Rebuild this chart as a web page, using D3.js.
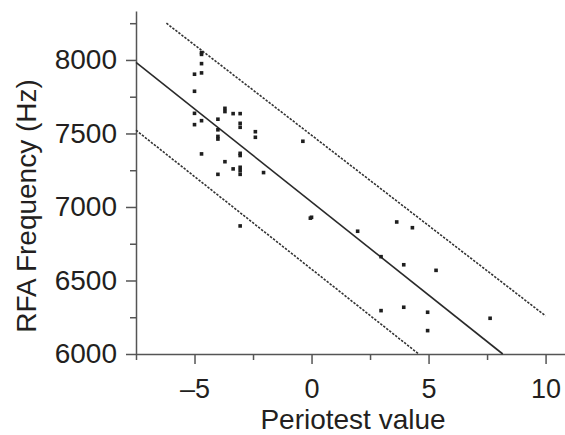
<!DOCTYPE html>
<html>
<head>
<meta charset="utf-8">
<script src="https://cdn.jsdelivr.net/npm/d3@7"></script>
<style>
  body { margin: 0; background: #fff; }
  svg { display: block; }
  text { font-family: "Liberation Sans", Arial, Helvetica, sans-serif; fill: #231f20; }
  .axis path, .axis line { stroke: #555; stroke-width: 1.5; }
</style>
</head>
<body>
<div id="chart"></div>
<script>
// periotest value vs RFA frequency, one entry per implant
var ptv = [-4.7, -4.7, -4.7, -5, -4.7, -5, -5, -4.7, -5,
           -3.7, -3.7, -3.35, -3.05, -4, -3.05, -3.05,
           -4, -4, -4, -2.4, -2.4, -4.7, -3.05, -3.05,
           -3.7, -3.35, -3.05, -3.05, -3.05, -4, -2.05, -3.05,
           -0.37, 0, -0.05, 1.97, 3.64, 4.31, 2.97, 3.94,
           5.32, 2.97, 3.94, 4.96, 4.96, 7.63];
var rfa = [8050, 8038, 7975, 7903, 7912, 7787, 7637, 7587, 7560,
           7671, 7649, 7635, 7635, 7597, 7569, 7542,
           7525, 7480, 7462, 7512, 7474, 7361, 7365, 7350,
           7308, 7259, 7270, 7247, 7222, 7222, 7234, 6871,
           7447, 6930, 6924, 6835, 6898, 6859, 6662, 6607,
           6569, 6295, 6318, 6284, 6159, 6243];

// regression line and the two dashed bands, as end points [ptv, rfa]
var fitLine = [[-7.5, 7984], [8.17, 6000]];
var upperBand = [[-6.2, 8250], [10, 6259]];
var lowerBand = [[-7.5, 7522], [4.58, 6000]];

var xMajor = [-5, 0, 5, 10];
var xMinor = [-7.5, -2.5, 2.5, 7.5];
var yMajor = [6000, 6500, 7000, 7500, 8000];
var yMinor = [6250, 6750, 7250, 7750, 8250];

width = 565
height = 435

var x = d3.scaleLinear().domain([-7.5, 10.83]).range([136, 565]);
var y = d3.scaleLinear().domain([6000, 8333]).range([354, 11]);

var svg = d3.select('#chart')
    .append('svg')
    .attr('width', width)
    .attr('height', height);

function fmt(d){
    return d < 0 ? '\u2013' + Math.abs(d) : '' + d
}

// x axis
svg.append('g')
    .attr('class', 'axis xaxis')
    .attr('transform', 'translate(0,' + y(6000) + ')')
    .call(d3.axisBottom(x).tickValues(xMajor).tickSize(10).tickSizeOuter(0).tickPadding(14.5).tickFormat(fmt));
svg.append('g')
    .attr('class', 'axis')
    .attr('transform', 'translate(0,' + y(6000) + ')')
    .call(d3.axisBottom(x).tickValues(xMinor).tickSize(6).tickFormat(''))
    .select('.domain').remove();

// y axis
svg.append('g')
    .attr('class', 'axis yaxis')
    .attr('transform', 'translate(' + x(-7.5) + ',0)')
    .call(d3.axisLeft(y).tickValues(yMajor).tickSize(10).tickSizeOuter(0).tickPadding(9).tickFormat(d3.format('d')));
svg.append('g')
    .attr('class', 'axis')
    .attr('transform', 'translate(' + x(-7.5) + ',0)')
    .call(d3.axisLeft(y).tickValues(yMinor).tickSize(6).tickFormat(''))
    .select('.domain').remove();

svg.selectAll('.yaxis text')
    .attr('font-size', 28)
    .attr('fill', '#231f20');
svg.selectAll('.xaxis text')
    .attr('font-size', 27)
    .attr('fill', '#231f20');

// titles
svg.append('text')
    .attr('x', 353)
    .attr('y', 429)
    .attr('text-anchor', 'middle')
    .attr('font-size', 28)
    .text('Periotest value');

svg.append('text')
    .attr('transform', 'translate(36,206) rotate(-90)')
    .attr('text-anchor', 'middle')
    .attr('font-size', 28)
    .text('RFA Frequency (Hz)');

var line = d3.line()
    .x(function(d){ return x(d[0]) })
    .y(function(d){ return y(d[1]) });

svg.append('path')
    .attr('d', line(fitLine))
    .attr('fill', 'none')
    .attr('stroke', '#2a2a2a')
    .attr('stroke-width', 1.6);

svg.selectAll('.band')
    .data([upperBand, lowerBand])
    .enter().append('path')
    .attr('class', 'band')
    .attr('d', line)
    .attr('fill', 'none')
    .attr('stroke', '#333')
    .attr('stroke-width', 1.6)
    .attr('stroke-dasharray', '2.4,1.4');

// data points as small squares
var s = 3.6
svg.selectAll('.pt')
    .data(d3.range(ptv.length))
    .enter().append('rect')
    .attr('class', 'pt')
    .attr('x', function(i){ return x(ptv[i]) - s / 2 })
    .attr('y', function(i){ return y(rfa[i]) - s / 2 })
    .attr('width', s)
    .attr('height', s)
    .attr('fill', '#1e1e1e');
</script>
</body>
</html>
